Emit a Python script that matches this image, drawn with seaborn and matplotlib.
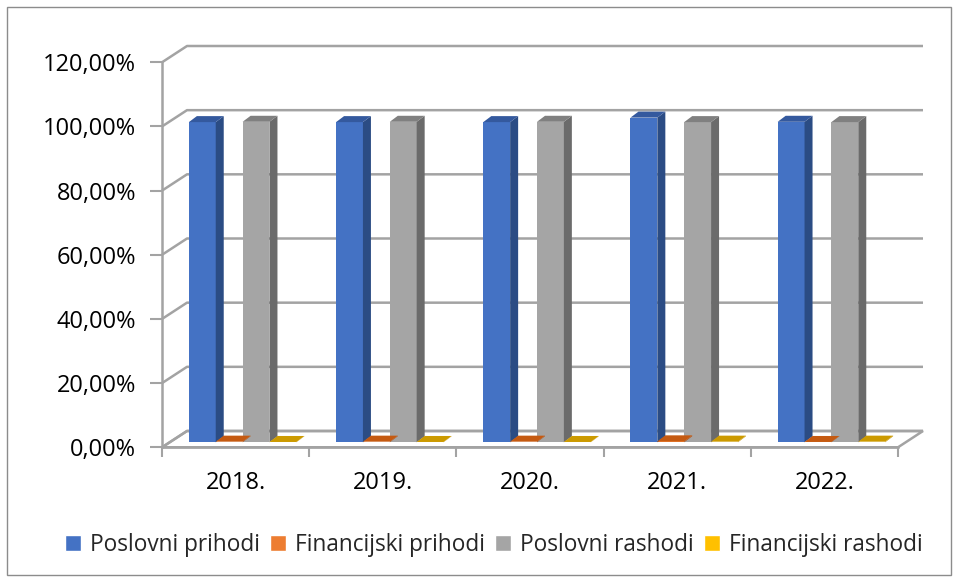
import numpy as np
import pandas as pd
import seaborn as sns
import matplotlib
matplotlib.use("Agg")
import matplotlib.pyplot as plt
from matplotlib.patches import Polygon, Rectangle
from matplotlib.transforms import ScaledTranslation

# ---------------- data ----------------
years = ["2018.", "2019.", "2020.", "2021.", "2022."]
series_names = ["Poslovni prihodi", "Financijski prihodi", "Poslovni rashodi", "Financijski rashodi"]
poslovni_prihodi = [99.8, 99.8, 99.8, 101.2, 99.9]
financijski_prihodi = [0.2, 0.2, 0.2, 0.3, 0.1]
poslovni_rashodi = [99.9, 99.9, 99.9, 99.8, 99.8]
financijski_rashodi = [0.1, 0.1, 0.1, 0.2, 0.2]
ytick_values = [0, 20, 40, 60, 80, 100, 120]
ytick_labels = ["0,00%", "20,00%", "40,00%", "60,00%", "80,00%", "100,00%", "120,00%"]

front_colors = ["#4472C4", "#ED7D31", "#A5A5A5", "#FFC000"]
side_colors = ["#2B4C84", "#B65A1E", "#6B6B6B", "#C39400"]
top_colors = ["#34599E", "#C55A11", "#808080", "#CC9A00"]

df = pd.DataFrame({
    "year": years * 4,
    "series": sum([[s] * len(years) for s in series_names], []),
    "value": poslovni_prihodi + financijski_prihodi + poslovni_rashodi + financijski_rashodi,
})

# ---------------- figure ----------------
sns.set_theme(style="white")
plt.rcParams["font.family"] = ["Open Sans", "DejaVu Sans"]
W, H = 957, 581
fig = plt.figure(figsize=(W / 100, H / 100), dpi=100)
ax_l, ax_r, ax_b, ax_t = 162, 898, 447.3, 62.3
ax = fig.add_axes([ax_l / W, 1 - ax_b / H, (ax_r - ax_l) / W, (ax_b - ax_t) / H])

sns.barplot(data=df, x="year", y="value", hue="series", hue_order=series_names,
            palette=front_colors, width=0.73, saturation=1, ax=ax, zorder=5)

ax.set_xlim(-0.5, 4.5)
ax.set_ylim(0, 120)
pxx = (ax_r - ax_l) / 5.0
pxy = (ax_b - ax_t) / 120.0

grid_c = "#A3A3A3"
# back wall offset (pixels -> data)
bdx, bdy = 25 / pxx, 16.3 / pxy
# floor
floor = Polygon([(-0.5, 0), (4.5, 0), (4.5 + bdx, bdy), (-0.5 + bdx, bdy)], closed=True,
                facecolor="white", edgecolor=grid_c, lw=1.8, clip_on=False, zorder=1)
ax.add_patch(floor)
for yv in ytick_values:
    ax.plot([-0.5, -0.5 + bdx, 4.5 + bdx], [yv, yv + bdy, yv + bdy], color=grid_c, lw=1.8,
            clip_on=False, zorder=1, solid_capstyle="butt")

# 3D faces for bars
shift = ScaledTranslation(7 / 100, 5 / 100, fig.dpi_scale_trans)
tr = ax.transData + shift
ddx, ddy = 8 / pxx, 6 / pxy
bars = [p for p in ax.patches if isinstance(p, Rectangle) and p is not floor and p.get_width() > 0]
for i, p in enumerate(bars[:len(years) * 4]):
    k = i // len(years)
    p.set_transform(tr)
    p.set_edgecolor("none")
    x, w, h = p.get_x(), p.get_width(), p.get_height()
    side = Polygon([(x + w, 0), (x + w + ddx, ddy), (x + w + ddx, h + ddy), (x + w, h)],
                   closed=True, facecolor=side_colors[k], edgecolor="none", transform=tr,
                   clip_on=False, zorder=5)
    top = Polygon([(x, h), (x + w, h), (x + w + ddx, h + ddy), (x + ddx, h + ddy)],
                  closed=True, facecolor=top_colors[k], edgecolor="none", transform=tr,
                  clip_on=False, zorder=5)
    ax.add_patch(side)
    ax.add_patch(top)
    p.set_clip_on(False)

# axes styling
for s in ["top", "right"]:
    ax.spines[s].set_visible(False)
for s in ["left", "bottom"]:
    ax.spines[s].set_color(grid_c)
    ax.spines[s].set_linewidth(1.8)
    ax.spines[s].set_zorder(2)
ax.set_yticks(ytick_values, ytick_labels)
ax.tick_params(axis="y", which="major", length=9, width=1.5, color=grid_c, pad=9.5,
               labelsize=17, labelcolor="black", left=True)
ax.set_xticks(range(len(years)), years)
ax.set_xticks(np.arange(-0.5, 5, 1), minor=True)
ax.tick_params(axis="x", which="major", length=0, pad=17, labelsize=17, labelcolor="black")
ax.tick_params(axis="x", which="minor", length=7, width=1.5, color=grid_c, bottom=True)
ax.set_xlabel("")
ax.set_ylabel("")
ax.grid(False)

# legend
leg = ax.get_legend()
handles = leg.legend_handles
leg.remove()
fig.legend(handles, series_names, loc="center", bbox_to_anchor=(494 / W, 1 - 545 / H),
           ncol=4, frameon=False, fontsize=16.3, handlelength=0.7, handleheight=0.7,
           handletextpad=0.4, columnspacing=0.45, borderaxespad=0)

# outer border
fig.patches.append(Rectangle((7 / W, 6 / H), 944 / W, 568 / H, transform=fig.transFigure,
                             fill=False, edgecolor="#8C8C8C", lw=1.0))

fig.savefig("out.png", dpi=100)
